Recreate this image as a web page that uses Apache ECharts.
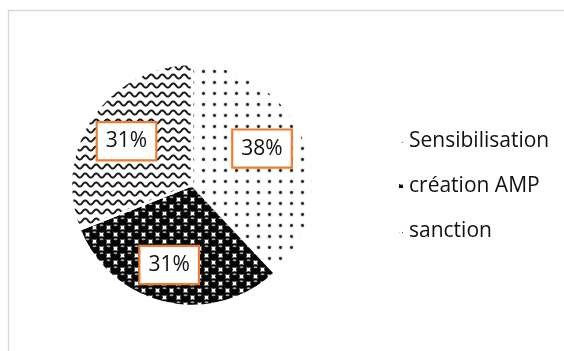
<!DOCTYPE html>
<html>
<head>
<meta charset="utf-8">
<script src="https://cdn.jsdelivr.net/npm/echarts@6/dist/echarts.min.js"></script>
<style>
  html, body { margin: 0; padding: 0; background: #fff; }
  #chart { width: 564px; height: 351px; }
</style>
</head>
<body>
<div id="chart"></div>
<script>
// Chart data
const categories = ['Sensibilisation', 'création AMP', 'sanction'];
const shares = [38, 31, 31];

// ---- hatch fills drawn on small tiles ----
function makeTile(w, h, draw) {
  const c = document.createElement('canvas');
  c.width = w; c.height = h;
  const g = c.getContext('2d');
  g.fillStyle = '#ffffff';
  g.fillRect(0, 0, w, h);
  draw(g, w, h);
  return c;
}

// sparse dotted fill
const dotTile = makeTile(11, 11, function (g, w, h) {
  g.fillStyle = '#1e1e1e';
  g.shadowColor = 'rgba(0,0,0,0.55)';
  g.shadowBlur = 2;
  g.beginPath();
  g.arc(5.5, 5.5, 1.4, 0, Math.PI * 2);
  g.fill();
});

// checkered black spheres
const sphereTile = makeTile(14, 14, function (g, w, h) {
  const centres = [[3.5, 3.5], [10.5, 10.5]];
  for (const [cx, cy] of centres) {
    for (let ox = -w; ox <= w; ox += w) {
      for (let oy = -h; oy <= h; oy += h) {
        const x = cx + ox, y = cy + oy;
        g.fillStyle = '#050505';
        g.beginPath();
        g.arc(x, y, 5.3, 0, Math.PI * 2);
        g.fill();
        g.fillStyle = '#a0a0a0';
        g.beginPath();
        g.ellipse(x, y - 2.2, 2.0, 1.0, 0, 0, Math.PI * 2);
        g.fill();
      }
    }
  }
});

// wavy lines
const waveTile = makeTile(11, 9, function (g, w, h) {
  g.strokeStyle = '#1a1a1a';
  g.lineWidth = 2;
  g.beginPath();
  for (let x = -2; x <= w + 2; x += 0.5) {
    const y = 4.5 + 2.1 * Math.sin((2 * Math.PI * x) / w);
    if (x === -2) g.moveTo(x, y); else g.lineTo(x, y);
  }
  g.stroke();
});

const fills = [
  { image: dotTile, repeat: 'repeat' },
  { image: sphereTile, repeat: 'repeat' },
  { image: waveTile, repeat: 'repeat' }
];

// label nudges (dx, dy) from the default inside position
const labelOffsets = [[11, -13], [-9, 18], [-13, -8]];

const chart = echarts.init(document.getElementById('chart'), null, { renderer: 'canvas' });

chart.setOption({
  animation: false,
  backgroundColor: '#ffffff',
  graphic: [{
    type: 'rect',
    silent: true,
    shape: { x: 8.5, y: 10.5, width: 700, height: 500 },
    style: { fill: 'none', stroke: '#d9d9d9', lineWidth: 1.3 }
  }],
  legend: {
    orient: 'vertical',
    left: 392,
    top: 124,
    itemWidth: 6,
    itemHeight: 6,
    itemGap: 21,
    itemTextGap: 8,
    icon: 'rect',
    selectedMode: false,
    textStyle: {
      fontFamily: 'Open Sans',
      fontSize: 21,
      lineHeight: 24,
      color: '#111111'
    },
    data: categories
  },
  series: [{
    type: 'pie',
    center: [192, 185],
    radius: 121,
    startAngle: 90,
    clockwise: true,
    percentPrecision: 0,
    avoidLabelOverlap: false,
    emphasis: { disabled: true },
    itemStyle: { borderColor: '#ffffff', borderWidth: 2.5 },
    label: {
      show: true,
      position: 'inside',
      formatter: '{d}%',
      fontFamily: 'Open Sans',
      fontSize: 21,
      lineHeight: 24,
      color: '#111111',
      backgroundColor: '#ffffff',
      borderColor: '#ED7D31',
      borderWidth: 2.2,
      padding: [6, 8]
    },
    labelLine: { show: false },
    labelLayout: function (params) {
      const o = labelOffsets[params.dataIndex] || [0, 0];
      return { dx: o[0], dy: o[1] };
    },
    data: categories.map(function (name, i) {
      return { name: name, value: shares[i], itemStyle: { color: fills[i] } };
    })
  }]
});
</script>
</body>
</html>
